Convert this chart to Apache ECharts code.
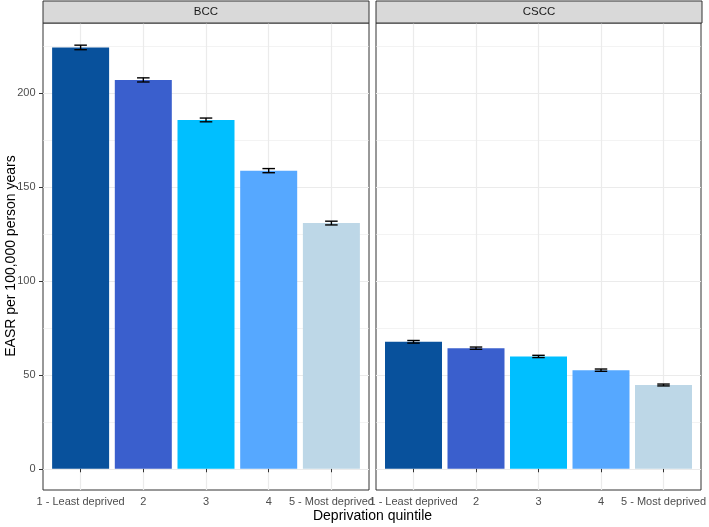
<!DOCTYPE html>
<html>
<head>
<meta charset="utf-8">
<script src="https://cdn.jsdelivr.net/npm/echarts@6/dist/echarts.min.js"></script>
<style>html,body{margin:0;padding:0;background:#fff}#c{width:709px;height:527px}</style>
</head>
<body>
<div id="c"></div>
<script>
// ---- data ----
const categories = ['1 - Least deprived', '2', '3', '4', '5 - Most deprived'];
const panels = ['BCC', 'CSCC'];
const bccValues = [224.3, 207.0, 185.7, 158.7, 130.8];
const bccLower = [223.1, 205.9, 184.7, 157.6, 129.8];
const bccUpper = [225.5, 208.1, 186.7, 159.8, 131.8];
const csccValues = [67.6, 64.2, 59.8, 52.5, 44.6];
const csccLower = [66.9, 63.6, 59.2, 51.9, 44.1];
const csccUpper = [68.3, 64.8, 60.4, 53.1, 45.1];
const yMajorTicks = [0, 50, 100, 150, 200];
const yMinorTicks = [25, 75, 125, 175, 225];
const barColors = ['#08519C', '#3A5FCD', '#00BFFF', '#56A8FF', '#BDD7E7'];

const xPositions = categories.map((c, i) => i + 1);
const panelValues = [bccValues, csccValues];
const panelLower = [bccLower, csccLower];
const panelUpper = [bccUpper, csccUpper];

const chart = echarts.init(document.getElementById('c'), null, {renderer: 'canvas'});
const fontFamily = 'Liberation Sans, Arial, Helvetica, sans-serif';

const grids = [
  {left: 43, top: 23, width: 326, height: 467, show: true, borderColor: '#333', borderWidth: 1, backgroundColor: 'transparent'},
  {left: 376, top: 23, width: 326, height: 467, show: true, borderColor: '#333', borderWidth: 1, backgroundColor: 'transparent'}
];

const xAxes = [], yAxes = [], series = [];
panels.forEach((p, g) => {
  xAxes.push({
    type: 'value', gridIndex: g, min: 0.4, max: 5.6,
    axisLine: {show: false},
    axisTick: {show: true, length: 3.5, lineStyle: {color: '#333', width: 1}, customValues: xPositions},
    axisLabel: {show: true, customValues: xPositions, color: '#4d4d4d', fontSize: 11, fontFamily, margin: 6,
      formatter: v => categories[Math.round(v) - 1]},
    splitLine: {show: true, lineStyle: {color: '#ebebeb', width: 1.2}},
    minorSplitLine: {show: false}
  });
  yAxes.push({
    type: 'value', gridIndex: g, min: -11.3, max: 237.3,
    axisLine: {show: false},
    axisTick: {show: g === 0, length: 4, lineStyle: {color: '#333', width: 1}, customValues: yMajorTicks},
    axisLabel: {show: g === 0, customValues: yMajorTicks, color: '#4d4d4d', fontSize: 11, fontFamily, margin: 7.5},
    splitLine: {show: true, lineStyle: {color: '#ebebeb', width: 1.2}}
  });
});
// minor y grid lines
panels.forEach((p, g) => {
  yAxes.push({
    type: 'value', gridIndex: g, min: -11.3, max: 237.3, position: 'left',
    axisLine: {show: false},
    axisTick: {show: false, customValues: yMinorTicks},
    axisLabel: {show: false, customValues: yMinorTicks},
    splitLine: {show: true, lineStyle: {color: '#ebebeb', width: 0.6}}
  });
});

panels.forEach((p, g) => {
  series.push({
    type: 'bar', xAxisIndex: g, yAxisIndex: g, barWidth: 57,
    data: panelValues[g].map((v, i) => ({value: [xPositions[i], v], itemStyle: {color: barColors[i]}})),
    z: 2, silent: true, animation: false
  });
  series.push({
    type: 'custom', xAxisIndex: g, yAxisIndex: g, z: 3, silent: true, animation: false,
    data: panelValues[g].map((v, i) => [xPositions[i], panelLower[g][i], panelUpper[g][i]]),
    renderItem: (params, api) => {
      const x = api.value(0), lo = api.value(1), hi = api.value(2);
      const pLo = api.coord([x, lo]), pHi = api.coord([x, hi]);
      const hw = api.size([0.1, 0])[0];
      const style = {stroke: '#000', lineWidth: 1.4, fill: null};
      return {type: 'group', children: [
        {type: 'line', shape: {x1: pLo[0], y1: pLo[1], x2: pHi[0], y2: pHi[1]}, style},
        {type: 'line', shape: {x1: pLo[0] - hw, y1: pLo[1], x2: pLo[0] + hw, y2: pLo[1]}, style},
        {type: 'line', shape: {x1: pHi[0] - hw, y1: pHi[1], x2: pHi[0] + hw, y2: pHi[1]}, style}
      ]};
    }
  });
});

const graphics = [];
panels.forEach((p, g) => {
  const gr = grids[g];
  graphics.push({type: 'rect', shape: {x: gr.left, y: 1, width: gr.width, height: 22},
    style: {fill: '#d9d9d9', stroke: '#333', lineWidth: 1}, z: 10});
  graphics.push({type: 'text', x: gr.left + gr.width / 2, y: 12,
    style: {text: p, fill: '#1a1a1a', fontSize: 11.5, fontFamily, align: 'center', verticalAlign: 'middle'}, z: 11});
});
graphics.push({type: 'text', x: 372.5, y: 516,
  style: {text: 'Deprivation quintile', fill: '#000', fontSize: 14, fontFamily, align: 'center', verticalAlign: 'middle'}});
graphics.push({type: 'text', x: 11, y: 256, rotation: Math.PI / 2,
  style: {text: 'EASR per 100,000 person years', fill: '#000', fontSize: 14, fontFamily, align: 'center', verticalAlign: 'middle'}});

chart.setOption({
  animation: false,
  backgroundColor: '#fff',
  grid: grids,
  xAxis: xAxes,
  yAxis: yAxes,
  series,
  graphic: graphics
});
</script>
</body>
</html>
